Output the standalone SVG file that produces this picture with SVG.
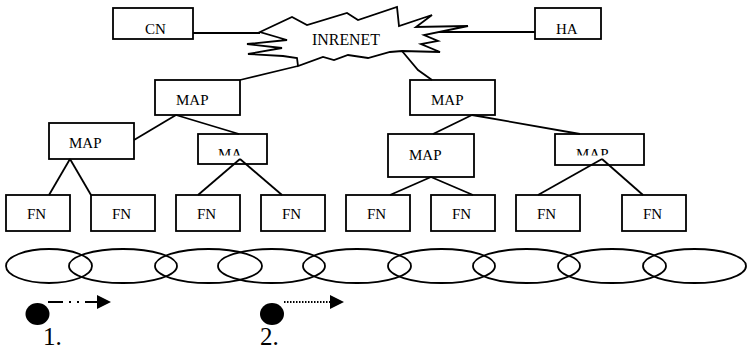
<svg xmlns="http://www.w3.org/2000/svg" width="747" height="349" viewBox="0 0 747 349" font-family="'Liberation Serif', 'Times New Roman', serif">
<style>
.box{fill:#fff;stroke:#000;stroke-width:1.8}
.ln{fill:none;stroke:#000;stroke-width:1.8}
text{font-family:'Liberation Serif','Times New Roman',serif;fill:#000}
.t{font-size:15px}
.big{font-size:25px}
.ell{fill:none;stroke:#000;stroke-width:1.8}
</style>
<defs>
<marker id="ah" viewBox="0 0 10 10" refX="0" refY="5" markerWidth="15" markerHeight="14" markerUnits="userSpaceOnUse" orient="auto"><path d="M0,0 L10,5 L0,10 z" fill="#000"/></marker>
<clipPath id="c1"><rect x="190" y="140" width="80" height="15.5"/></clipPath>
<clipPath id="c2"><rect x="550" y="140" width="100" height="15.5"/></clipPath>
</defs>
<g id="internet">
<polygon class="box" points="260,32 292,17 307,25 347,13 358,20 397,7 399,26 432,15 416,27 468,26 424,35 438,41 421,44 440,52 402,51 390,52 368,58 348,55 334,60 323,57 298,66 297,58 283,56 248,54 282,48 247,44 287,40"/>
<text x="312" y="45" style="font-size:16px" textLength="68" lengthAdjust="spacingAndGlyphs">INRENET</text>
</g>
<g id="cn"><rect class="box" x="113" y="8" width="80" height="31"/><text class="t" x="145" y="34">CN</text></g>
<g id="ha"><rect class="box" x="535" y="8" width="66" height="31"/><text class="t" x="556" y="34">HA</text></g>
<g id="map1"><rect class="box" x="155" y="80" width="85" height="35"/><text class="t" x="176" y="105">MAP</text></g>
<g id="map2"><rect class="box" x="410" y="80" width="85" height="35"/><text class="t" x="431" y="105">MAP</text></g>
<g id="map3"><rect class="box" x="49" y="123" width="85" height="36"/><text class="t" x="69" y="148">MAP</text></g>
<g id="map4"><rect class="box" x="198" y="134" width="69" height="30"/><text class="t" x="218" y="158.5" clip-path="url(#c1)">MA</text></g>
<g id="map5"><rect class="box" x="388" y="134" width="86" height="43"/><text class="t" x="409" y="160">MAP</text></g>
<g id="map6"><rect class="box" x="555" y="134" width="89" height="31"/><text class="t" x="576" y="158.5" clip-path="url(#c2)">MAP</text></g>
<g id="fn1"><rect class="box" x="6" y="195" width="64" height="36"/><text class="t" x="27" y="219">FN</text></g>
<g id="fn2"><rect class="box" x="91" y="195" width="64" height="36"/><text class="t" x="112" y="219">FN</text></g>
<g id="fn3"><rect class="box" x="176" y="195" width="64" height="36"/><text class="t" x="197" y="219">FN</text></g>
<g id="fn4"><rect class="box" x="261" y="195" width="64" height="36"/><text class="t" x="282" y="219">FN</text></g>
<g id="fn5"><rect class="box" x="346" y="195" width="64" height="36"/><text class="t" x="367" y="219">FN</text></g>
<g id="fn6"><rect class="box" x="431" y="195" width="64" height="36"/><text class="t" x="452" y="219">FN</text></g>
<g id="fn7"><rect class="box" x="516" y="195" width="64" height="36"/><text class="t" x="537" y="219">FN</text></g>
<g id="fn8"><rect class="box" x="622" y="195" width="64" height="36"/><text class="t" x="643" y="219">FN</text></g>
<g id="connectors">
<line class="ln" x1="193" y1="33" x2="260" y2="33"/>
<line class="ln" x1="439" y1="32" x2="535" y2="32"/>
<line class="ln" x1="240" y1="80" x2="298" y2="66"/>
<polyline class="ln" points="402,51 418,70 432,80"/>
<line class="ln" x1="176" y1="115" x2="134" y2="140"/>
<line class="ln" x1="176" y1="115" x2="239" y2="134"/>
<line class="ln" x1="472" y1="115" x2="433" y2="134"/>
<line class="ln" x1="472" y1="115" x2="580" y2="134"/>
<line class="ln" x1="70" y1="159" x2="49" y2="195"/>
<line class="ln" x1="70" y1="159" x2="91" y2="195"/>
<line class="ln" x1="240" y1="159" x2="198" y2="195"/>
<line class="ln" x1="240" y1="159" x2="282" y2="195"/>
<line class="ln" x1="431" y1="177" x2="390" y2="195"/>
<line class="ln" x1="431" y1="177" x2="473" y2="195"/>
<line class="ln" x1="602" y1="159" x2="538" y2="195"/>
<line class="ln" x1="602" y1="159" x2="643" y2="195"/>
</g>
<g id="cells">
<ellipse class="ell" cx="49" cy="266" rx="43" ry="17"/>
<ellipse class="ell" cx="123" cy="266" rx="54" ry="17"/>
<ellipse class="ell" cx="208.5" cy="266" rx="53.5" ry="17"/>
<ellipse class="ell" cx="271.5" cy="266" rx="53.5" ry="17"/>
<ellipse class="ell" cx="357" cy="266" rx="54" ry="17"/>
<ellipse class="ell" cx="441.5" cy="266" rx="53.5" ry="17"/>
<ellipse class="ell" cx="526.5" cy="266" rx="53.5" ry="17"/>
<ellipse class="ell" cx="612" cy="266" rx="54" ry="17"/>
<ellipse class="ell" cx="694.5" cy="266" rx="51.5" ry="17"/>
</g>
<g id="mobile1">
<ellipse cx="37.5" cy="314" rx="12" ry="11" fill="#000"/>
<line class="ln" x1="48" y1="302" x2="97" y2="302" stroke-dasharray="15 6 2 6 2 6" marker-end="url(#ah)"/>
<text class="big" x="43" y="345">1.</text>
</g>
<g id="mobile2">
<ellipse cx="272" cy="314" rx="12" ry="11" fill="#000"/>
<line class="ln" x1="284" y1="302" x2="330" y2="302" stroke-width="1.5" stroke-dasharray="1.5 1.5" marker-end="url(#ah)"/>
<text class="big" x="260" y="345">2.</text>
</g>
</svg>
